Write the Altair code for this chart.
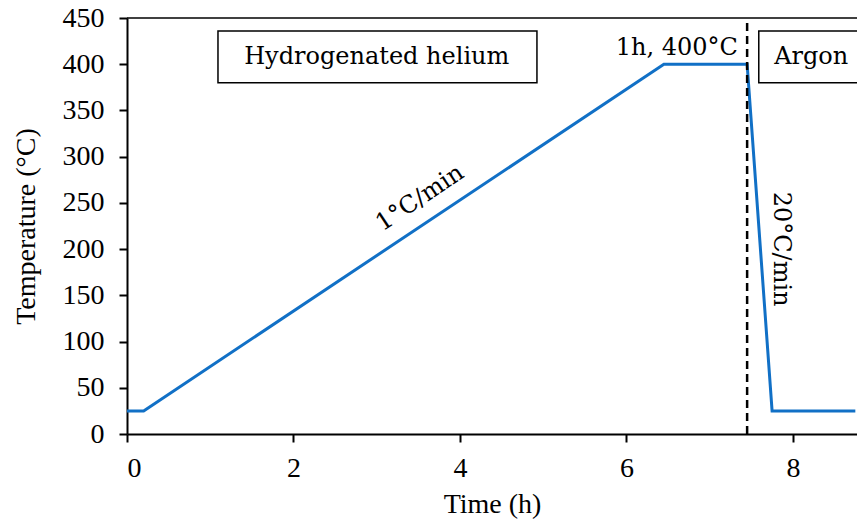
import altair as alt
import pandas as pd

# Temperature programme
time_h = [0, 0.2, 6.45, 7.45, 7.75, 8.75]
temp_c = [25, 25, 400, 400, 25, 25]

x_ticks = [0, 2, 4, 6, 8]
y_ticks = list(range(0, 451, 50))
x_max = 8.77
y_max = 450
switch_time = 7.45

# Gas boxes
box_labels = ["Hydrogenated helium", "Argon"]
box_x = [1.093, 7.59]
box_x2 = [4.925, 9.5]
box_y = [380, 380]
box_y2 = [436, 436]
box_text_x = [3.0, 8.22]
box_text_y = [408, 408]

# Notes
hold_note = "1h, 400°C"
hold_x, hold_y = 7.34, 410
ramp_note = "1°C/min"
ramp_x, ramp_y = 3.52, 255
cool_note = "20°C/min"
cool_x, cool_y = 7.86, 200

line_df = pd.DataFrame({"t": time_h, "T": temp_c})
box_df = pd.DataFrame({"label": box_labels, "x": box_x, "x2": box_x2,
                       "y": box_y, "y2": box_y2, "tx": box_text_x, "ty": box_text_y})

xs = alt.Scale(domain=[0, x_max], nice=False, zero=False)
ys = alt.Scale(domain=[0, y_max], nice=False)

BLUE = "#1170C6"
SERIF = "Liberation Serif"
ANNO = "DejaVu Serif"
AFS = 24

line = alt.Chart(line_df).mark_line(color=BLUE, strokeWidth=3).encode(
    x=alt.X("t:Q", scale=xs, title="Time (h)",
            axis=alt.Axis(values=x_ticks, format="d")),
    y=alt.Y("T:Q", scale=ys, title="Temperature (°C)",
            axis=alt.Axis(values=y_ticks, format="d")),
)

top_border = alt.Chart(pd.DataFrame({"a": [0]})).mark_rule(color="black", strokeWidth=1.5).encode(
    x=alt.datum(0, scale=xs), x2=alt.datum(x_max), y=alt.datum(y_max, scale=ys)
)

dash = alt.Chart(pd.DataFrame({"a": [0]})).mark_rule(
    color="black", strokeWidth=2.5, strokeDash=[8, 5]
).encode(x=alt.datum(switch_time), y=alt.datum(0), y2=alt.datum(y_max))

boxes = alt.Chart(box_df).mark_rect(fill="white", stroke="black", strokeWidth=1.5, clip=True).encode(
    x="x:Q", x2="x2:Q", y="y:Q", y2="y2:Q"
)
box_text = alt.Chart(box_df).mark_text(font=ANNO, fontSize=AFS, color="black",
                                       align="center", baseline="middle").encode(
    x="tx:Q", y="ty:Q", text="label:N"
)

hold = alt.Chart(pd.DataFrame({"s": [hold_note]})).mark_text(
    font=ANNO, fontSize=AFS, color="black", align="right", baseline="alphabetic"
).encode(x=alt.datum(hold_x), y=alt.datum(hold_y), text="s:N")

ramp = alt.Chart(pd.DataFrame({"s": [ramp_note]})).mark_text(
    font=ANNO, fontSize=AFS, color="black", align="center", baseline="middle", angle=326.3
).encode(x=alt.datum(ramp_x), y=alt.datum(ramp_y), text="s:N")

cool = alt.Chart(pd.DataFrame({"s": [cool_note]})).mark_text(
    font=ANNO, fontSize=AFS, color="black", align="center", baseline="middle", angle=90
).encode(x=alt.datum(cool_x), y=alt.datum(cool_y), text="s:N")

chart = alt.layer(line, top_border, dash, boxes, box_text, hold, ramp, cool).properties(
    width=730, height=416,
    autosize=alt.AutoSizeParams(type="none"),
    padding={"left": 119, "top": 10, "right": 0, "bottom": 86},
).configure_view(stroke=None).configure_axis(
    grid=False, domainColor="black", domainWidth=2, tickColor="black", tickWidth=2,
    tickSize=8, labelFont=SERIF, labelFontSize=28, labelColor="black",
    titleFont=SERIF, titleFontSize=28, titleFontWeight="normal", titleColor="black",
).configure_axisX(labelPadding=12, titlePadding=8).configure_axisY(labelPadding=15, titlePadding=22)

chart.save("out.html", embed_options={"renderer": "svg", "actions": False})
